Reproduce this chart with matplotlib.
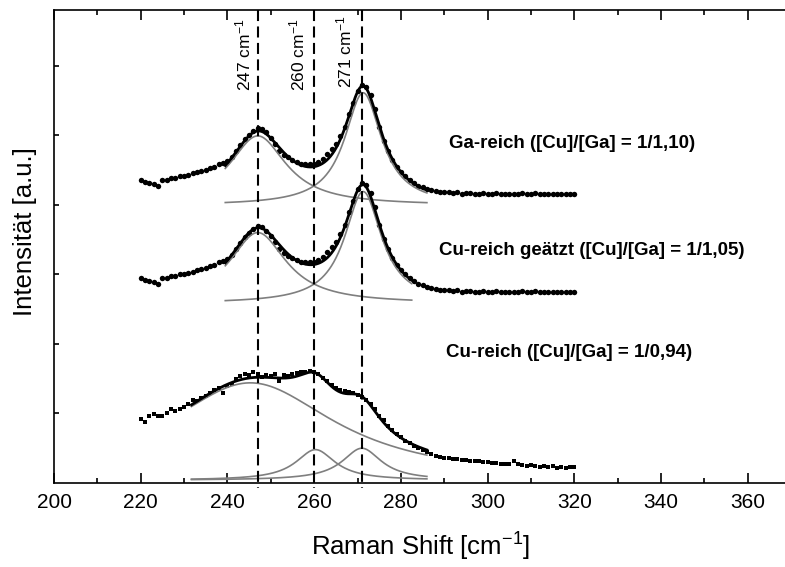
import numpy as np
import matplotlib
matplotlib.use("Agg")
import matplotlib.pyplot as plt
from matplotlib.ticker import MultipleLocator, NullFormatter

plt.rcParams['font.family'] = ['Liberation Sans', 'DejaVu Sans']
plt.rcParams['mathtext.fontset'] = 'custom'
plt.rcParams['mathtext.rm'] = 'Liberation Sans'
plt.rcParams['mathtext.it'] = 'Liberation Sans:italic'
plt.rcParams['mathtext.bf'] = 'Liberation Sans:bold'
plt.rcParams['mathtext.default'] = 'regular'

# Raman shift grid of the measured spectra (cm^-1)
shift = np.arange(220, 321)

# Measured intensities (stacked, arbitrary units)
ga_rich = [
    4.35, 4.33, 4.32, 4.30, 4.27, 4.36, 4.36, 4.38, 4.39, 4.41,
    4.42, 4.43, 4.45, 4.47, 4.49, 4.50, 4.53, 4.55, 4.58, 4.60,
    4.63, 4.69, 4.77, 4.86, 4.95, 5.01, 5.06, 5.11, 5.09, 5.04,
    4.96, 4.87, 4.78, 4.72, 4.68, 4.64, 4.61, 4.59, 4.58, 4.58,
    4.59, 4.61, 4.66, 4.73, 4.80, 4.88, 4.99, 5.12, 5.30, 5.47,
    5.63, 5.72, 5.70, 5.58, 5.38, 5.12, 4.92, 4.77, 4.64, 4.55,
    4.47, 4.41, 4.36, 4.31, 4.27, 4.25, 4.23, 4.21, 4.20, 4.19,
    4.18, 4.18, 4.17, 4.18, 4.15, 4.17, 4.17, 4.16, 4.15, 4.17,
    4.16, 4.15, 4.17, 4.16, 4.16, 4.15, 4.15, 4.16, 4.17, 4.16,
    4.15, 4.17, 4.16, 4.15, 4.16, 4.16, 4.15, 4.16, 4.16, 4.15,
    4.16,
]

cu_rich_etched = [
    2.94, 2.92, 2.91, 2.89, 2.86, 2.95, 2.95, 2.97, 2.98, 3.00,
    3.01, 3.02, 3.04, 3.06, 3.08, 3.09, 3.12, 3.14, 3.17, 3.19,
    3.22, 3.28, 3.36, 3.45, 3.54, 3.60, 3.65, 3.70, 3.68, 3.63,
    3.55, 3.46, 3.37, 3.31, 3.27, 3.23, 3.20, 3.18, 3.17, 3.17,
    3.18, 3.20, 3.25, 3.32, 3.39, 3.47, 3.58, 3.71, 3.89, 4.06,
    4.22, 4.31, 4.29, 4.17, 3.97, 3.71, 3.51, 3.36, 3.23, 3.14,
    3.06, 3.00, 2.95, 2.90, 2.86, 2.84, 2.82, 2.80, 2.79, 2.78,
    2.77, 2.77, 2.76, 2.77, 2.74, 2.76, 2.76, 2.75, 2.74, 2.76,
    2.75, 2.74, 2.76, 2.75, 2.75, 2.74, 2.74, 2.75, 2.76, 2.75,
    2.74, 2.76, 2.75, 2.74, 2.75, 2.75, 2.74, 2.75, 2.75, 2.74,
    2.75,
]

cu_rich = [
    0.92, 0.87, 0.96, 0.99, 0.97, 0.96, 1.01, 1.06, 1.04, 1.06,
    1.09, 1.13, 1.20, 1.18, 1.22, 1.25, 1.29, 1.33, 1.37, 1.30,
    1.39, 1.43, 1.50, 1.54, 1.56, 1.55, 1.59, 1.56, 1.52, 1.55,
    1.54, 1.56, 1.47, 1.55, 1.54, 1.57, 1.58, 1.59, 1.60, 1.61,
    1.60, 1.57, 1.51, 1.46, 1.41, 1.37, 1.33, 1.32, 1.31, 1.30,
    1.27, 1.24, 1.20, 1.14, 1.06, 0.96, 0.90, 0.82, 0.76, 0.71,
    0.66, 0.61, 0.58, 0.53, 0.50, 0.47, 0.44, 0.41, 0.39, 0.38,
    0.36, 0.36, 0.35, 0.34, 0.33, 0.33, 0.32, 0.31, 0.31, 0.30,
    0.30, 0.29, 0.29, 0.28, 0.27, 0.28, 0.32, 0.28, 0.26, 0.25,
    0.26, 0.24, 0.23, 0.25, 0.23, 0.24, 0.22, 0.23, 0.22, 0.23,
    0.23,
]

# Lorentzian fit results: offset, peak centres, amplitudes, half widths, fit window
ga_offset = 3.99
ga_centers = [247.0, 271.3]
ga_amps = [1.00, 1.62]
ga_widths = [8.0, 5.2]
ga_window = (239.5, 286.0)

etched_offset = 2.58
etched_centers = [247.0, 271.3]
etched_amps = [1.02, 1.61]
etched_widths = [8.0, 5.2]
etched_window = (239.5, 282.5)

cu_offset = 0.04
cu_centers = [245.3, 260.3, 271.0]
cu_amps = [1.40, 0.44, 0.46]
cu_widths = [24.0, 5.5, 5.5]
cu_window = (231.7, 286.0)

# Assigned Raman modes
mode_positions = [247, 260, 271]
mode_labels = ["247 cm$^{-1}$", "260 cm$^{-1}$", "271 cm$^{-1}$"]
mode_label_x = [243.6, 256.2, 267.0]
mode_label_y = [5.64, 5.64, 5.68]

sample_labels = [
    "Ga-reich ([Cu]/[Ga] = 1/1,10)",
    "Cu-reich geätzt ([Cu]/[Ga] = 1/1,05)",
    "Cu-reich ([Cu]/[Ga] = 1/0,94)",
]
sample_label_x = [291.1, 288.9, 290.4]
sample_label_y = [4.88, 3.34, 1.88]


def lorentz(x, center, amp, hwhm):
    return amp / (1.0 + ((x - center) / hwhm) ** 2)


fig = plt.figure(figsize=(7.85, 5.67), dpi=100)
ax = fig.add_axes([54 / 785, (567 - 483) / 567, 733 / 785, 473 / 567])

# measured spectra
ax.plot(shift, ga_rich, 'o', color='black', ms=3.9, mew=0, zorder=3)
ax.plot(shift, cu_rich_etched, 'o', color='black', ms=3.9, mew=0, zorder=3)
ax.plot(shift, cu_rich, 's', color='black', ms=3.4, mew=0, zorder=3)

# fit components (grey) and total fit (black)
fits = [
    (ga_offset, ga_centers, ga_amps, ga_widths, ga_window),
    (etched_offset, etched_centers, etched_amps, etched_widths, etched_window),
    (cu_offset, cu_centers, cu_amps, cu_widths, cu_window),
]
for offset, centers, amps, widths, window in fits:
    xf = np.linspace(window[0], window[1], 400)
    total = np.full_like(xf, offset)
    for c, a, w in zip(centers, amps, widths):
        comp = lorentz(xf, c, a, w)
        total += comp
        ax.plot(xf, offset + comp, color='#7f7f7f', lw=1.2, zorder=4)
    ax.plot(xf, total, color='black', lw=2.0, zorder=5)

# mode positions
for pos, lab, lx, ly in zip(mode_positions, mode_labels, mode_label_x, mode_label_y):
    ax.plot([pos, pos], [6.8, -0.07], color='black', lw=1.5,
            linestyle=(0, (5.3, 2.6)), clip_on=False, zorder=6)
    ax.text(lx, ly, lab, rotation=90, ha='center', va='bottom', fontsize=12.5)

for lab, lx, ly in zip(sample_labels, sample_label_x, sample_label_y):
    ax.text(lx, ly, lab, ha='left', va='center', fontsize=13.5, fontweight='bold')

ax.set_xlim(200, 200 + 733 / 4.336)
ax.set_ylim(0, 6.8)
ax.xaxis.set_major_locator(MultipleLocator(20))
ax.xaxis.set_minor_locator(MultipleLocator(10))
ax.set_yticks([1, 2, 3, 4, 5, 6])
ax.yaxis.set_major_formatter(NullFormatter())
ax.tick_params(axis='x', which='major', direction='in', top=True, bottom=True,
               length=7, width=1.2, labelsize=15, pad=7)
ax.tick_params(axis='x', which='minor', direction='in', top=True, bottom=True,
               length=3.5, width=1.2)
ax.tick_params(axis='y', which='major', direction='in', left=True, right=False,
               length=3.5, width=1.2)
for sp in ax.spines.values():
    sp.set_linewidth(1.2)

ax.set_xlabel("Raman Shift [cm$^{-1}$]", fontsize=18.5, labelpad=14)
fig.text(25 / 785, 1 - 232 / 567, "Intensität [a.u.]", rotation=90,
         ha='center', va='center', fontsize=18.5)

fig.savefig("out.png", dpi=100)
